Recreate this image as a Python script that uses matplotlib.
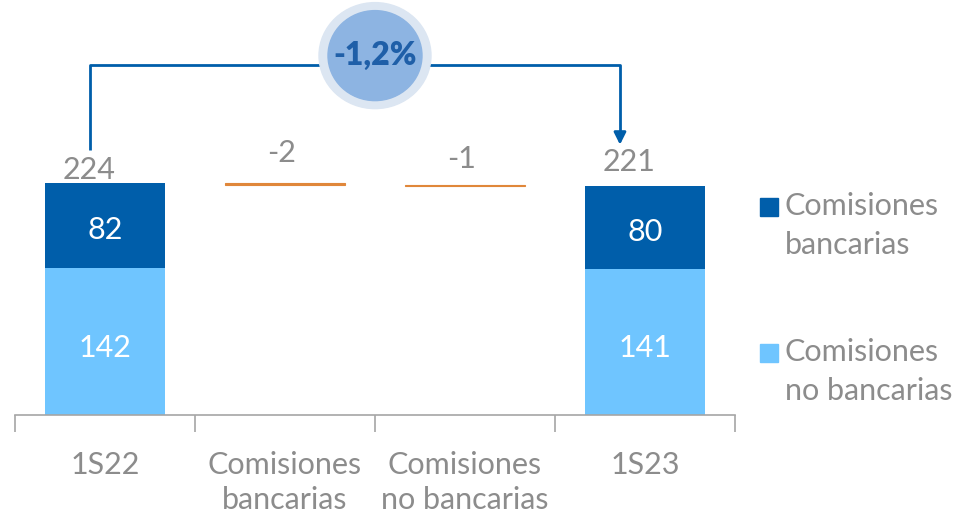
"""Waterfall of commissions 1S22 -> 1S23, stacked by type."""

import matplotlib
matplotlib.use("Agg")
import matplotlib.pyplot as plt
from matplotlib.patches import Ellipse, Rectangle

# --- data ---
categories = ["1S22", "Comisiones\nbancarias", "Comisiones\nno bancarias", "1S23"]
no_bancarias = [142, 141]          # 1S22, 1S23
bancarias = [82, 80]               # 1S22, 1S23
totals = [224, 221]
deltas = [-2, -1]                  # bancarias, no bancarias
change_label = "-1,2%"

DARK = "#005EAA"
LIGHT = "#6FC5FF"
ORANGE = "#E0873A"
GREY = "#8C8C8C"
AXIS = "#A6A6A6"
FS = 22

plt.rcParams["font.family"] = ["Lato", "DejaVu Sans"]

fig = plt.figure(figsize=(9.62, 5.14), dpi=100)
ax = fig.add_axes([15 / 962, 99 / 514, 720 / 962, 415 / 514])
ax.set_xlim(-0.5, 3.5)
ax.set_ylim(0, 415 / 1.0357)

w = 0.67
ends = [0, 3]
ax.bar(ends, no_bancarias, width=w, color=LIGHT, zorder=2)
ax.bar(ends, bancarias, width=w, bottom=no_bancarias, color=DARK, zorder=2)

# floating deltas
level = totals[0]
for i, d in enumerate(deltas, start=1):
    ax.bar(i, d, width=w, bottom=level, color=ORANGE, edgecolor=ORANGE,
           linewidth=0.8, zorder=2)
    level += d

# labels in bars (nudged down a little to sit like the original)
for x, nb, b in zip(ends, no_bancarias, bancarias):
    ax.text(x, nb / 2 - 6, str(nb), ha="center", va="center", color="white",
            fontsize=FS)
    ax.text(x, nb + b / 2 - 4, str(b), ha="center", va="center", color="white",
            fontsize=FS)

# totals and deltas on top
total_y = [237, 244]
for x, t, ty in zip(ends, totals, total_y):
    ax.text(x - 0.09, ty, str(t), ha="center", va="center", color=GREY,
            fontsize=FS)
delta_y = [253, 247]
for i, (d, dy) in enumerate(zip(deltas, delta_y), start=1):
    ax.text(i - 0.02, dy, str(d), ha="center", va="center", color=GREY,
            fontsize=FS)

# bracket with arrow
y_top = 338
ax.plot([-0.083, -0.083, 2.861, 2.861], [256, y_top, y_top, 268],
        color=DARK, lw=2, zorder=3, solid_capstyle="butt")
ax.annotate("", xy=(2.861, 261), xytext=(2.861, 272),
            arrowprops=dict(arrowstyle="-|>", color=DARK, lw=2,
                            mutation_scale=18, shrinkA=0, shrinkB=0), zorder=4)

# bubble
ax.add_patch(Ellipse((1.5, 347), 112 / 180, 106 / 1.0357, color="#DCE6F2",
                     zorder=5, clip_on=False))
ax.add_patch(Ellipse((1.5, 347), 94 / 180, 90 / 1.0357, color="#8DB4E2",
                     zorder=6, clip_on=False))
ax.text(1.5, 347, change_label, ha="center", va="center", color="#1F5FA8",
        fontsize=23, fontweight="heavy", zorder=7)

# axis styling
for s in ["top", "right", "left"]:
    ax.spines[s].set_visible(False)
ax.spines["bottom"].set_color(AXIS)
ax.spines["bottom"].set_linewidth(1.2)
ax.set_yticks([])
ax.set_xticks([-0.5, 0.5, 1.5, 2.5, 3.5])
ax.set_xticklabels([])
ax.tick_params(axis="x", which="major", length=12, width=1.2, color=AXIS)
ax.set_xticks(range(len(categories)), minor=True)
ax.set_xticklabels(categories, minor=True, color=GREY, fontsize=FS,
                   linespacing=1.32, va="top")
ax.tick_params(axis="x", which="minor", length=0, pad=26)

# legend
legend_items = [(DARK, "Comisiones\nbancarias", 198), (LIGHT, "Comisiones\nno bancarias", 344)]
for color, label, ypx in legend_items:
    fig.patches.append(Rectangle((760 / 962, 1 - (ypx + 18) / 514), 18 / 962, 18 / 514,
                                 transform=fig.transFigure, color=color, figure=fig))
    fig.text(785 / 962, 1 - (ypx - 6) / 514, label, ha="left", va="top",
             color=GREY, fontsize=FS, linespacing=1.5)

fig.savefig("out.png", dpi=100)
